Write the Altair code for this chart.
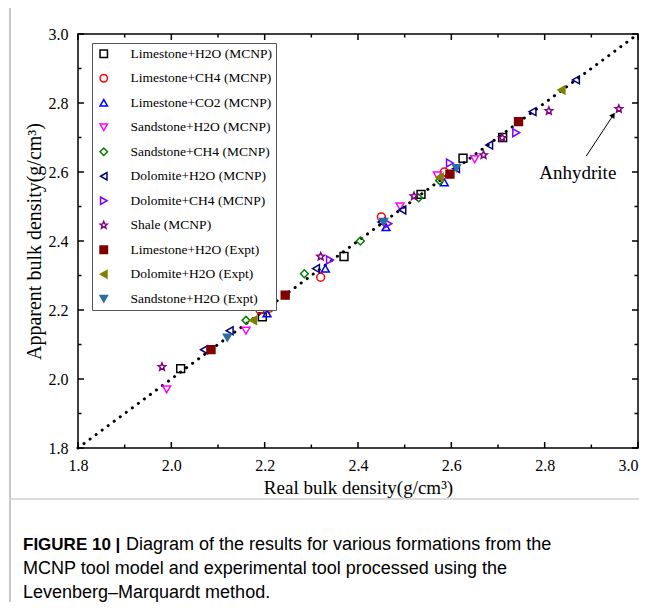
import altair as alt
import pandas as pd

# ---------------- data ----------------
series = [
    "Limestone+H2O (MCNP)", "Limestone+CH4 (MCNP)", "Limestone+CO2 (MCNP)",
    "Sandstone+H2O (MCNP)", "Sandstone+CH4 (MCNP)", "Dolomite+H2O (MCNP)",
    "Dolomite+CH4 (MCNP)", "Shale (MCNP)", "Limestone+H2O (Expt)",
    "Dolomite+H2O (Expt)", "Sandstone+H2O (Expt)",
]

lime_h2o_x = [2.02, 2.195, 2.37, 2.535, 2.625, 2.71]
lime_h2o_y = [2.03, 2.18, 2.355, 2.535, 2.64, 2.70]
lime_ch4_x = [2.19, 2.21, 2.32, 2.45, 2.585]
lime_ch4_y = [2.20, 2.205, 2.295, 2.47, 2.60]
lime_co2_x = [2.205, 2.33, 2.46, 2.585]
lime_co2_y = [2.19, 2.32, 2.44, 2.57]
sand_h2o_x = [1.99, 2.16, 2.49, 2.57, 2.65]
sand_h2o_y = [1.97, 2.14, 2.50, 2.59, 2.637]
sand_ch4_x = [2.16, 2.285, 2.405, 2.53, 2.575]
sand_ch4_y = [2.17, 2.305, 2.40, 2.525, 2.575]
dolo_h2o_x = [2.07, 2.125, 2.31, 2.45, 2.495, 2.61, 2.681, 2.774, 2.867]
dolo_h2o_y = [2.085, 2.14, 2.32, 2.455, 2.49, 2.61, 2.678, 2.775, 2.867]
dolo_ch4_x = [2.34, 2.465, 2.597, 2.739]
dolo_ch4_y = [2.345, 2.45, 2.626, 2.714]
shale_x = [1.98, 2.32, 2.52, 2.669, 2.709, 2.809, 2.959]
shale_y = [2.035, 2.355, 2.53, 2.649, 2.699, 2.777, 2.783]
lime_exp_x = [2.085, 2.244, 2.597, 2.744]
lime_exp_y = [2.085, 2.243, 2.594, 2.746]
dolo_exp_x = [2.175, 2.575, 2.836]
dolo_exp_y = [2.17, 2.585, 2.838]
sand_exp_x = [2.12, 2.455, 2.611]
sand_exp_y = [2.12, 2.455, 2.611]

all_x = [lime_h2o_x, lime_ch4_x, lime_co2_x, sand_h2o_x, sand_ch4_x, dolo_h2o_x,
         dolo_ch4_x, shale_x, lime_exp_x, dolo_exp_x, sand_exp_x]
all_y = [lime_h2o_y, lime_ch4_y, lime_co2_y, sand_h2o_y, sand_ch4_y, dolo_h2o_y,
         dolo_ch4_y, shale_y, lime_exp_y, dolo_exp_y, sand_exp_y]

diag_vals = [1.8, 3.0]
major_ticks = [1.8, 2.0, 2.2, 2.4, 2.6, 2.8, 3.0]
minor_ticks = [1.9, 2.1, 2.3, 2.5, 2.7, 2.9]

arrow_x = [2.889]
arrow_y = [2.646]
arrow_x2 = [2.947]
arrow_y2 = [2.765]
anno_x = [2.871]
anno_y = [2.597]
anno_text = ["Anhydrite"]

caption_bold = "FIGURE 10 |"
caption_lines = [
    "Diagram of the results for various formations from the",
    "MCNP tool model and experimental tool processed using the",
    "Levenberg\u2013Marquardt method.",
]

# ---------------- styles ----------------
STAR = ("M0,-1L0.2645,-0.364L0.951,-0.309L0.428,0.139L0.588,0.809L0,0.45"
        "L-0.588,0.809L-0.428,0.139L-0.951,-0.309L-0.2645,-0.364Z")
strokes = ["#000000", "#ff0000", "#0000ff", "#ff00ff", "#008000", "#000080",
           "#8000ff", "#800080", "#800000", "#808000", "#2e6da4"]
fills = ["transparent"] * 8 + ["#800000", "#808000", "#2e6da4"]
shapes = ["square", "circle", "triangle-up", "triangle-down", "diamond",
          "triangle-left", "triangle-right", STAR, "square", "triangle-left",
          "triangle-down"]

rows = []
for s, xs, ys in zip(series, all_x, all_y):
    for xv, yv in zip(xs, ys):
        rows.append({"series": s, "x": xv, "y": yv})
pts = pd.DataFrame(rows)
diag = pd.DataFrame({"x": diag_vals, "y": diag_vals})

W, H = 560, 414
SERIF = "Liberation Serif"
SANS = "Liberation Sans"
LO, HI = 1.8, 3.0
SC = alt.Scale(domain=[LO, HI], nice=False, zero=False)

leg = alt.Legend(
    title=None, orient="none", legendX=14, legendY=9,
    strokeColor="#555555", fillColor="white", padding=4,
    rowPadding=9.5, labelFont=SERIF, labelFontSize=13.5, labelColor="black",
    labelOffset=20, symbolSize=55, symbolStrokeWidth=1.5, symbolOffset=1,
    cornerRadius=0,
)

x_label_align = {"condition": {"test": "datum.value > 2.95", "value": "right"},
                 "value": "center"}

X_AX = alt.Axis(
    orient="bottom", values=major_ticks, format=".1f", ticks=False,
    domain=False, grid=False, labelFont=SERIF, labelFontSize=16,
    labelColor="black", labelPadding=9, labelFlush=False,
    labelAlign=x_label_align,
    title="Real bulk density(g/cm\u00b3)", titleFont=SERIF,
    titleFontSize=19, titleFontWeight="normal", titleColor="black",
    titlePadding=5)
Y_AX = alt.Axis(
    orient="left", values=major_ticks, format=".1f", ticks=False,
    domain=False, grid=False, labelFont=SERIF, labelFontSize=16,
    labelColor="black", labelPadding=10, labelFlush=False,
    title="Apparent bulk density(g/cm\u00b3)", titleFont=SERIF,
    titleFontSize=20, titleFontWeight="normal", titleColor="black",
    titlePadding=4)

points = alt.Chart(pts).mark_point(opacity=1, size=62, strokeWidth=1.5).encode(
    x=alt.X("x:Q", scale=SC, axis=X_AX),
    y=alt.Y("y:Q", scale=SC, axis=Y_AX),
    stroke=alt.Stroke("series:N", scale=alt.Scale(domain=series, range=strokes), legend=leg),
    fill=alt.Fill("series:N", scale=alt.Scale(domain=series, range=fills), legend=leg),
    shape=alt.Shape("series:N", scale=alt.Scale(domain=series, range=shapes), legend=leg),
)

line = alt.Chart(diag).mark_line(
    color="black", strokeWidth=3, strokeDash=[0.1, 7.4], strokeCap="round"
).encode(
    x=alt.X("x:Q", scale=SC, axis=X_AX),
    y=alt.Y("y:Q", scale=SC, axis=Y_AX),
)

# inward tick marks on all four sides of the frame (tick length converted
# from pixels to data units so that every end goes through the scales)
tick_layers = []
for vals, size in [(major_ticks, 6), (minor_ticks, 3.5)]:
    tdf = pd.DataFrame({"v": vals})
    dy = size * (HI - LO) / H
    dx = size * (HI - LO) / W
    base = alt.Chart(tdf).mark_rule(color="black", strokeWidth=1.5)
    for a, b in [(LO, LO + dy), (HI, HI - dy)]:
        tick_layers.append(base.transform_calculate(
            a=f"{a}", b=f"{b}"
        ).encode(
            x=alt.X("v:Q", scale=SC, axis=X_AX), x2="v:Q",
            y=alt.Y("a:Q", scale=SC, axis=Y_AX), y2="b:Q"))
    for a, b in [(LO, LO + dx), (HI, HI - dx)]:
        tick_layers.append(base.transform_calculate(
            a=f"{a}", b=f"{b}"
        ).encode(
            y=alt.Y("v:Q", scale=SC, axis=Y_AX), y2="v:Q",
            x=alt.X("a:Q", scale=SC, axis=X_AX), x2="b:Q"))

arr_df = pd.DataFrame({"x": arrow_x, "y": arrow_y, "x2": arrow_x2, "y2": arrow_y2})
arrow = alt.Chart(arr_df).mark_rule(color="black", strokeWidth=1).encode(
    x=alt.X("x:Q", scale=SC, axis=X_AX),
    y=alt.Y("y:Q", scale=SC, axis=Y_AX),
    x2="x2:Q", y2="y2:Q",
)
head_df = pd.DataFrame({"x": arrow_x2, "y": arrow_y2})
head = alt.Chart(head_df).mark_point(
    shape="triangle-up", filled=True, color="black", opacity=1, size=40, angle=34
).encode(
    x=alt.X("x:Q", scale=SC, axis=X_AX),
    y=alt.Y("y:Q", scale=SC, axis=Y_AX),
)

anno_df = pd.DataFrame({"x": anno_x, "y": anno_y, "t": anno_text})
anno = alt.Chart(anno_df).mark_text(
    font=SERIF, fontSize=19, color="black", align="center", baseline="middle"
).encode(
    x=alt.X("x:Q", scale=SC, axis=X_AX),
    y=alt.Y("y:Q", scale=SC, axis=Y_AX),
    text="t:N",
)

one = pd.DataFrame({"k": [0]})
cap_x = 23 - 78
cap_y0 = 545 - 34
cap_dy = 24
bold = alt.Chart(one).mark_text(
    text=caption_bold, font=SANS, fontSize=17, fontWeight="bold", color="black",
    align="left", baseline="middle"
).encode(x=alt.value(cap_x), y=alt.value(cap_y0))
cap_layers = [bold]
for i, t in enumerate(caption_lines):
    xo = cap_x + (103 if i == 0 else 0)
    cap_layers.append(alt.Chart(one).mark_text(
        text=t, font=SANS, fontSize=18, color="black", align="left", baseline="middle"
    ).encode(x=alt.value(xo), y=alt.value(cap_y0 + i * cap_dy)))

vline = alt.Chart(one).mark_rule(color="#c8c8c8", strokeWidth=2).encode(
    x=alt.value(10 - 78), y=alt.value(-26), y2=alt.value(610 - 34))
hline = alt.Chart(one).mark_rule(color="#d0d0d0", strokeWidth=1.5).encode(
    x=alt.value(10 - 78), x2=alt.value(W + 1), y=alt.value(499 - 34))

chart = alt.layer(
    line, *tick_layers, points, arrow, head, anno, vline, hline, *cap_layers
).properties(
    width=W, height=H,
    padding={"left": 70, "top": 26, "right": 1, "bottom": 154},
    autosize=alt.AutoSizeParams(type="none"),
    background="white",
).configure_view(stroke="black", strokeWidth=1.5)

chart.save("out.html", embed_options={"renderer": "svg", "actions": False})
